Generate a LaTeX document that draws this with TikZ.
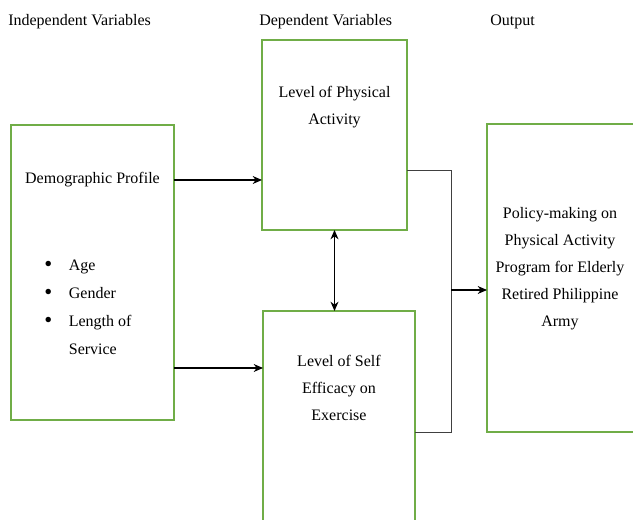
\documentclass[tikz,border=0pt]{standalone}
\usepackage{fontspec}
\setmainfont{Liberation Serif}
\usetikzlibrary{arrows.meta}
\definecolor{boxgreen}{RGB}{112,173,71}
\definecolor{linegray}{RGB}{64,64,64}
\newcommand{\bigbul}{\raisebox{-0.6pt}{\fontsize{17}{17}\selectfont\textbullet}}

\begin{document}
\begin{tikzpicture}[
    x=0.75pt, y=-0.75pt,
    box/.style={rectangle, draw=boxgreen, line width=1pt, inner sep=0pt, outer sep=0pt},
    txt/.style={font=\fontsize{12}{20.25}\selectfont, align=center, inner sep=0pt},
    head/.style={font=\fontsize{12}{14}\selectfont, anchor=base west, inner sep=0pt},
    arrow/.style={-{Stealth[length=7pt, width=6pt]}, line width=0.9pt},
    dblarrow/.style={{Stealth[length=7pt, width=6pt]}-{Stealth[length=7pt, width=6pt]}, line width=0.9pt},
    bracket/.style={draw=linegray, line width=0.7pt}
]
\useasboundingbox (0,0) rectangle (633,520);

% Column headings
\node[head] (indep) at (8,26) {Independent Variables};
\node[head] (dep) at (259,26) {Dependent Variables};
\node[head] (outhead) at (490,26) {Output};

% Independent side
\node[box, minimum width=122.25pt, minimum height=221.25pt] (demo) at (92.5,272.5) {};
\node[txt] (demotitle) at (92.5,180) {Demographic Profile};
\node[txt, font=\fontsize{12}{21}\selectfont, anchor=north west] (traits) at (44,251) {%
  \begin{tabular}{@{}c@{\hspace{12.5pt}}l@{}}
  \bigbul & Age\\
  \bigbul & Gender\\
  \bigbul & Length of\\
          & Service
  \end{tabular}};

% Dependent side
\node[box, minimum width=108.75pt, minimum height=142.5pt] (pa) at (334.5,135) {};
\node[txt] (patext) at (334.5,107) {Level of Physical\\Activity};
\node[box, minimum width=114pt, minimum height=164.25pt] (se) at (339,420.5) {};
\node[txt] (setext) at (339,388) {Level of Self\\Efficacy on\\Exercise};

% Output side
\node[box, minimum width=118.5pt, minimum height=231pt] (out) at (566,278) {};
\node[txt] (outtext) at (560,269) {Policy-making on\\Physical Activity\\Program for Elderly\\Retired Philippine\\Army};

% Connectors
\coordinate (lowin) at (174,368);
\coordinate (brtop) at (451,170);
\coordinate (brbot) at (451,432);
\coordinate (brmid) at (451,290);
\draw[arrow] (demotitle -| demo.east) -- (demotitle -| pa.west);
\draw[arrow] (lowin) -- (lowin -| se.west);
\draw[dblarrow] (pa.south) -- (pa.south |- se.north);
\draw[bracket] (brtop -| pa.east) -- (brtop) -- (brbot) -- (brbot -| se.east);
\draw[arrow] (brmid) -- (brmid -| out.west);

\end{tikzpicture}
\end{document}
